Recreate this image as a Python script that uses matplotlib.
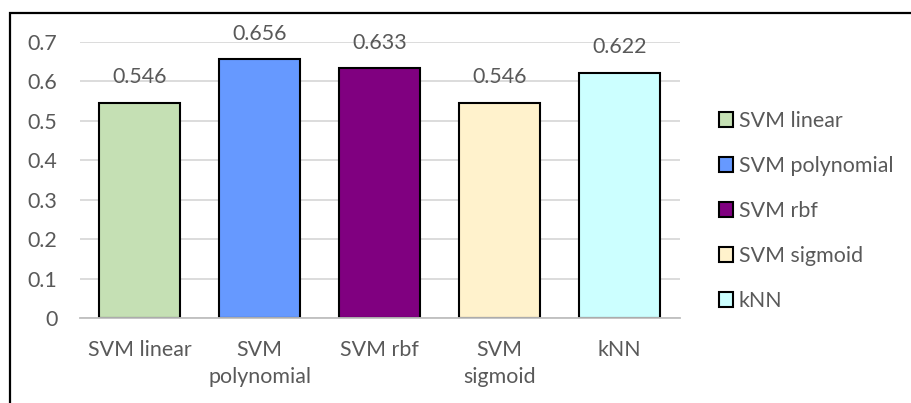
import matplotlib
matplotlib.use("Agg")
import matplotlib.pyplot as plt
from matplotlib.patches import Patch, Rectangle

categories = ["SVM linear", "SVM polynomial", "SVM rbf", "SVM sigmoid", "kNN"]
tick_labels = ["SVM linear", "SVM\npolynomial", "SVM rbf", "SVM\nsigmoid", "kNN"]
values = [0.546, 0.656, 0.633, 0.546, 0.622]
value_labels = ["0.546", "0.656", "0.633", "0.546", "0.622"]
colors = ["#c5e0b4", "#6699ff", "#800080", "#fff2cc", "#ccffff"]
yticks = [0, 0.1, 0.2, 0.3, 0.4, 0.5, 0.6, 0.7]
ytick_labels = ["0", "0.1", "0.2", "0.3", "0.4", "0.5", "0.6", "0.7"]

plt.rcParams['font.family'] = ['Lato', 'DejaVu Sans']
txt = "#595959"
fs = 15.4

fig = plt.figure(figsize=(9.11, 4.03), dpi=100)
ax = fig.add_axes([79.5/911, 1-318/403, 600/911, 276/403])

x = list(range(len(categories)))
bars = ax.bar(x, values, width=0.675, color=colors, edgecolor="black", linewidth=1.5, zorder=3)
for xi, v, lab in zip(x, values, value_labels):
    ax.annotate(lab, (xi, v), xytext=(0, 11), textcoords="offset points",
                ha="center", va="bottom", fontsize=fs, color=txt)

ax.set_xlim(-0.5, 4.5)
ax.set_ylim(0, 0.7)
ax.set_yticks(yticks)
ax.set_yticklabels(ytick_labels)
ax.set_xticks(x)
ax.set_xticklabels(tick_labels, linespacing=1.45)
ax.tick_params(axis="both", length=0, labelsize=fs, labelcolor=txt)
ax.tick_params(axis="x", pad=16)
ax.tick_params(axis="y", pad=16)
ax.grid(axis="y", color="#d9d9d9", linewidth=1.3, zorder=0)
for s in ["top", "right", "left"]:
    ax.spines[s].set_visible(False)
ax.spines["bottom"].set_color("#bfbfbf")
ax.spines["bottom"].set_linewidth(1.3)
ax.spines["bottom"].set_zorder(4)

handles = [Patch(facecolor=c, edgecolor="black", linewidth=1.5) for c in colors]
fig.legend(handles, categories, loc="upper left", bbox_to_anchor=(719/911, 1-111/403),
           frameon=False, fontsize=fs, labelcolor=txt, handlelength=0.65, handleheight=0.65,
           handletextpad=0.28, labelspacing=1.17, borderpad=0, borderaxespad=0)

fig.add_artist(Rectangle((9.5/911, -0.2), 1.5, (1-12.5/403)+0.2, transform=fig.transFigure,
                         fill=False, edgecolor="black", linewidth=1.6))

fig.savefig("out.png", dpi=100, facecolor="white")
